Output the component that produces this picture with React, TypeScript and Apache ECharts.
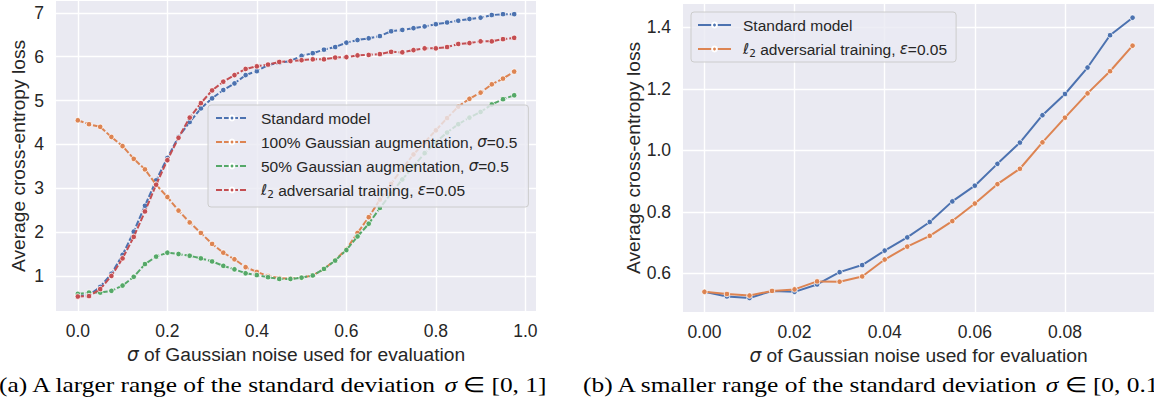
import React, { useEffect, useRef } from "react";
import * as echarts from "echarts";

// ---------- data (left panel) ----------
const xLeft = [
  0, 0.025, 0.05, 0.075, 0.1, 0.125, 0.15, 0.175, 0.2, 0.225,
  0.25, 0.275, 0.3, 0.325, 0.35, 0.375, 0.4, 0.425, 0.45, 0.475,
  0.5, 0.525, 0.55, 0.575, 0.6, 0.625, 0.65, 0.675, 0.7, 0.725,
  0.75, 0.775, 0.8, 0.825, 0.85, 0.875, 0.9, 0.925, 0.95, 0.975,
];
const standardLeft = [
  0.55, 0.56, 0.75, 1.05, 1.48, 2.01, 2.6, 3.18, 3.69, 4.17,
  4.51, 4.82, 5.05, 5.24, 5.39, 5.58, 5.67, 5.81, 5.86, 5.9,
  6.02, 6.08, 6.16, 6.22, 6.32, 6.38, 6.42, 6.47, 6.58, 6.61,
  6.65, 6.69, 6.74, 6.78, 6.82, 6.86, 6.89, 6.95, 6.97, 6.97,
];
const gauss100 = [
  4.55, 4.46, 4.4, 4.17, 3.96, 3.67, 3.43, 3.08, 2.8, 2.49,
  2.22, 1.98, 1.73, 1.53, 1.38, 1.2, 1.09, 1.0, 0.95, 0.94,
  0.96, 1.01, 1.16, 1.36, 1.61, 1.98, 2.34, 2.74, 3.1, 3.45,
  3.77, 4.05, 4.32, 4.6, 4.86, 5.04, 5.18, 5.37, 5.5, 5.66,
];
const gauss50 = [
  0.59, 0.62, 0.62, 0.66, 0.78, 0.98, 1.27, 1.44, 1.53, 1.5,
  1.46, 1.4, 1.33, 1.23, 1.15, 1.06, 1.02, 0.97, 0.93, 0.93,
  0.96, 1.01, 1.16, 1.35, 1.59, 1.9, 2.19, 2.55, 2.88, 3.2,
  3.5, 3.8, 4.05, 4.27, 4.46, 4.61, 4.74, 4.91, 5.03, 5.12,
];
const advLeft = [
  0.53, 0.54, 0.7, 1.0, 1.4, 1.89, 2.47, 3.08, 3.64, 4.15,
  4.61, 4.94, 5.23, 5.43, 5.58, 5.72, 5.78, 5.82, 5.88, 5.9,
  5.92, 5.94, 5.94, 5.98, 5.99, 6.03, 6.04, 6.06, 6.11, 6.1,
  6.15, 6.19, 6.19, 6.22, 6.29, 6.31, 6.35, 6.35, 6.4, 6.43,
];
const xTicksLeft = [0, 0.2, 0.4, 0.6, 0.8, 1.0];
const yTicksLeft = [1, 2, 3, 4, 5, 6, 7];

// ---------- data (right panel) ----------
const xRight = [
  0, 0.005, 0.01, 0.015, 0.02, 0.025, 0.03, 0.035, 0.04, 0.045,
  0.05, 0.055, 0.06, 0.065, 0.07, 0.075, 0.08, 0.085, 0.09, 0.095,
];
const standardRight = [
  0.54, 0.525, 0.52, 0.543, 0.54, 0.564, 0.604, 0.627, 0.674, 0.717,
  0.767, 0.834, 0.885, 0.956, 1.025, 1.114, 1.183, 1.269, 1.374, 1.431,
];
const advRight = [
  0.54, 0.533, 0.528, 0.543, 0.548, 0.574, 0.573, 0.59, 0.645, 0.687,
  0.722, 0.77, 0.827, 0.89, 0.94, 1.026, 1.106, 1.185, 1.257, 1.34,
];
const xTicksRight = [0, 0.02, 0.04, 0.06, 0.08];
const yTicksRight = [0.6, 0.8, 1.0, 1.2, 1.4];

// ---------- names ----------
const N_STD = "Standard model";
const N_G100 = "100% Gaussian augmentation, σ=0.5";
const N_G50 = "50% Gaussian augmentation, σ=0.5";
const N_ADV = "ℓ2 adversarial training, ε=0.05";
const N_STD_B = "Standard model (b)";
const N_ADV_B = "ℓ2 adversarial training, ε=0.05 (b)";

const legendLabel: Record<string, string> = {
  [N_STD]: "Standard model",
  [N_G100]: "100% Gaussian augmentation, {i|σ}=0.5",
  [N_G50]: "50% Gaussian augmentation, {i|σ}=0.5",
  [N_ADV]: "{i|ℓ}{sub|2} adversarial training, {i|ε}=0.05",
  [N_STD_B]: "Standard model",
  [N_ADV_B]: "{i|ℓ}{sub|2} adversarial training, {i|ε}=0.05",
};

const BLUE = "#4C72B0";
const ORANGE = "#DD8452";
const GREEN = "#55A868";
const RED = "#C44E52";
const BG = "#EAEAF2";
const TXT = "#262626";
const SANS = "Liberation Sans";

const pairs = (xs: number[], ys: number[]) => xs.map((x, i) => [x, ys[i]]);

const lineSeries = (
  name: string,
  xs: number[],
  ys: number[],
  color: string,
  idx: number,
  dashed: boolean,
  z: number
) => ({
  type: "line",
  name,
  xAxisIndex: idx,
  yAxisIndex: idx,
  data: pairs(xs, ys),
  symbol: "circle",
  symbolSize: 5.5,
  showSymbol: true,
  z,
  itemStyle: { color, borderColor: "#ffffff", borderWidth: 0.8 },
  lineStyle: { color, width: 2, type: dashed ? [6, 2] : "solid" },
  emphasis: { disabled: true },
});

const legendRich = {
  i: { fontStyle: "italic", fontFamily: "DejaVu Sans", fontSize: 15, color: TXT, lineHeight: 18 },
  sub: { fontSize: 10.5, fontFamily: "DejaVu Sans", color: TXT, verticalAlign: "bottom", lineHeight: 14 },
};

const nameRich = {
  i: { fontStyle: "italic", fontFamily: "DejaVu Sans", fontSize: 18.5, color: TXT },
};

const xAxisBase = (grid: number, min: number, max: number, ticks: number[], dec: number) => ({
  type: "value",
  gridIndex: grid,
  min,
  max,
  name: "{i|σ} of Gaussian noise used for evaluation",
  nameLocation: "middle",
  nameGap: 31,
  nameTextStyle: { fontSize: 19.2, color: TXT, fontFamily: SANS, rich: nameRich },
  axisLine: { show: false },
  axisTick: { show: false, customValues: ticks },
  axisLabel: {
    customValues: ticks,
    formatter: (v: number) => v.toFixed(dec),
    fontSize: 17.5,
    color: TXT,
    fontFamily: SANS,
    margin: 11,
  },
  splitLine: { show: true, lineStyle: { color: "#ffffff", width: 1.4 } },
});

const yAxisBase = (grid: number, min: number, max: number, ticks: number[], dec: number, gap: number) => ({
  type: "value",
  gridIndex: grid,
  min,
  max,
  name: "Average cross-entropy loss",
  nameLocation: "middle",
  nameGap: gap,
  nameTextStyle: { fontSize: 19.2, color: TXT, fontFamily: SANS },
  axisLine: { show: false },
  axisTick: { show: false, customValues: ticks },
  axisLabel: {
    customValues: ticks,
    formatter: (v: number) => v.toFixed(dec),
    fontSize: 17.5,
    color: TXT,
    fontFamily: SANS,
    margin: 12,
  },
  splitLine: { show: true, lineStyle: { color: "#ffffff", width: 1.4 } },
});

export default function App() {
  const ref = useRef<HTMLDivElement>(null);

  useEffect(() => {
    if (!ref.current) return;
    const chart = echarts.init(ref.current, null, { renderer: "svg" });

    const option = {
      animation: false,
      backgroundColor: "#ffffff",
      grid: [
        { left: 56, top: 1, width: 480, height: 310, backgroundColor: BG, show: true, borderWidth: 0 },
        { left: 683, top: 4, width: 476, height: 308, backgroundColor: BG, show: true, borderWidth: 0 },
      ],
      xAxis: [
        xAxisBase(0, -0.04875, 1.02375, xTicksLeft, 1),
        xAxisBase(1, -0.00475, 0.09975, xTicksRight, 2),
      ],
      yAxis: [
        yAxisBase(0, 0.2, 7.27, yTicksLeft, 0, 28),
        yAxisBase(1, 0.4745, 1.4755, yTicksRight, 1, 40),
      ],
      legend: [
        {
          left: 208,
          top: 105,
          orient: "vertical",
          data: [N_STD, N_G100, N_G50, N_ADV],
          itemWidth: 32,
          itemHeight: 6,
          itemGap: 6,
          padding: [4, 11, 8, 7],
          backgroundColor: "rgba(234,234,242,0.8)",
          borderColor: "#cccccc",
          borderWidth: 1,
          borderRadius: 3,
          selectedMode: false,
          formatter: (n: string) => legendLabel[n],
          textStyle: {
            fontSize: 15.5,
            color: TXT,
            fontFamily: SANS,
            lineHeight: 18,
            padding: [0, 0, 0, 8],
            rich: legendRich,
          },
          z: 10,
        },
        {
          left: 691,
          top: 12,
          orient: "vertical",
          data: [N_STD_B, N_ADV_B],
          itemWidth: 33,
          itemHeight: 6,
          itemGap: 6,
          padding: [4, 9, 4, 6],
          backgroundColor: "rgba(234,234,242,0.8)",
          borderColor: "#cccccc",
          borderWidth: 1,
          borderRadius: 3,
          selectedMode: false,
          formatter: (n: string) => legendLabel[n],
          textStyle: {
            fontSize: 15.5,
            color: TXT,
            fontFamily: SANS,
            lineHeight: 18,
            padding: [0, 0, 0, 7],
            rich: legendRich,
          },
          z: 10,
        },
      ],
      series: [
        lineSeries(N_STD, xLeft, standardLeft, BLUE, 0, true, 2),
        lineSeries(N_G100, xLeft, gauss100, ORANGE, 0, true, 3),
        lineSeries(N_G50, xLeft, gauss50, GREEN, 0, true, 4),
        lineSeries(N_ADV, xLeft, advLeft, RED, 0, true, 5),
        lineSeries(N_STD_B, xRight, standardRight, BLUE, 1, false, 2),
        lineSeries(N_ADV_B, xRight, advRight, ORANGE, 1, false, 3),
      ],
      graphic: [
        {
          type: "text",
          x: -1,
          y: 385,
          scaleX: 1.21,
          style: {
            text: "(a) A larger range of the standard deviation {i|σ} ∈ [0, 1]",
            fontSize: 21,
            fontFamily: "Liberation Serif",
            fill: "#000000",
            verticalAlign: "middle",
            rich: { i: { fontStyle: "italic", fontFamily: "Liberation Serif", fontSize: 21 } },
          },
        },
        {
          type: "text",
          x: 583,
          y: 385,
          scaleX: 1.21,
          style: {
            text: "(b) A smaller range of the standard deviation {i|σ} ∈ [0, 0.1]",
            fontSize: 21,
            fontFamily: "Liberation Serif",
            fill: "#000000",
            verticalAlign: "middle",
            rich: { i: { fontStyle: "italic", fontFamily: "Liberation Serif", fontSize: 21 } },
          },
        },
      ],
    };

    chart.setOption(option as any);
    return () => chart.dispose();
  }, []);

  return (
    <div
      ref={ref}
      style={{ position: "fixed", left: 0, top: 0, width: 1154, height: 402 }}
    />
  );
}
